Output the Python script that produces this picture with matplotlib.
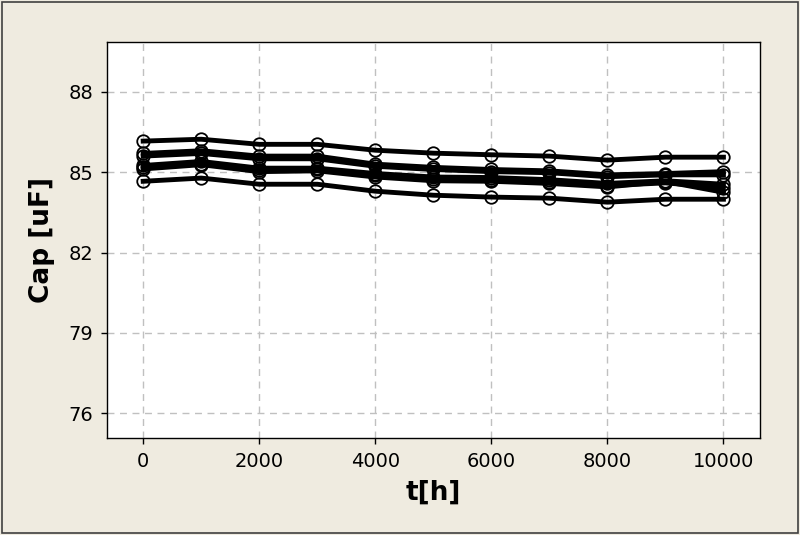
import matplotlib
matplotlib.use('agg')
import matplotlib.pyplot as plt
from matplotlib.patches import Rectangle

# hours
t = [0, 1000, 2000, 3000, 4000, 5000, 6000, 7000, 8000, 9000, 10000]

# capacitance per sample [uF]
cap_1 = [86.16, 86.23, 86.04, 86.04, 85.82, 85.71, 85.65, 85.60, 85.45, 85.56, 85.56]
cap_2 = [85.70, 85.80, 85.60, 85.60, 85.30, 85.18, 85.10, 85.05, 84.90, 84.95, 85.02]
cap_3 = [85.60, 85.70, 85.50, 85.50, 85.22, 85.10, 85.02, 84.98, 84.83, 84.90, 84.90]
cap_4 = [85.25, 85.40, 85.15, 85.15, 84.95, 84.82, 84.80, 84.72, 84.58, 84.68, 84.55]
cap_5 = [85.18, 85.32, 85.08, 85.10, 84.88, 84.75, 84.72, 84.65, 84.50, 84.60, 84.42]
cap_6 = [85.12, 85.28, 85.02, 85.05, 84.82, 84.68, 84.66, 84.58, 84.45, 84.65, 84.25]
cap_7 = [84.66, 84.78, 84.55, 84.55, 84.29, 84.14, 84.07, 84.03, 83.88, 83.99, 83.99]

series = [cap_1, cap_2, cap_3, cap_4, cap_5, cap_6, cap_7]

y_ticks = [76, 79, 82, 85, 88]
x_ticks = [0, 2000, 4000, 6000, 8000, 10000]

bg = '#efebe0'
fig = plt.figure(figsize=(8, 5.35), dpi=100, facecolor=bg)
ax = fig.add_axes([0.134, 0.181, 0.816, 0.740])

for s in series:
    ax.plot(t, s, color='black', lw=3.5, marker='o', ms=9,
            mfc='none', mec='black', mew=1.3, zorder=3)

ax.set_xlim(-620, 10630)
ax.set_ylim(75.07, 89.85)
ax.set_xticks(x_ticks)
ax.set_yticks(y_ticks)
ax.grid(True, color='#c0c0c0', ls=(0, (5, 4)), lw=1.0)
ax.set_axisbelow(True)

fam = ['Liberation Sans Narrow', 'DejaVu Sans Condensed', 'DejaVu Sans']
for lab in ax.get_xticklabels() + ax.get_yticklabels():
    lab.set_family(fam)
    lab.set_fontsize(14)
ax.tick_params(direction='out', length=4, width=1, pad=6)

ax.set_xlabel('t[h]', fontsize=19, fontweight='bold', family='DejaVu Sans', labelpad=6)
ax.set_ylabel('Cap [uF]', fontsize=19, fontweight='bold', family='DejaVu Sans', labelpad=10)

for sp in ax.spines.values():
    sp.set_linewidth(1.0)
    sp.set_color('black')

# outer frame around the figure
fig.patches.append(Rectangle((0.002, 0.003), 0.996, 0.994, transform=fig.transFigure,
                             fill=False, edgecolor='#404040', lw=1.2))

fig.savefig('out.png', dpi=100, facecolor=bg)
